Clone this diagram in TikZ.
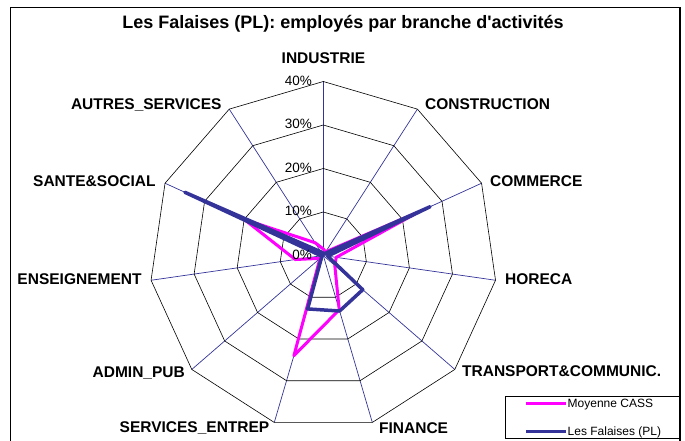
\documentclass[tikz,border=0pt]{standalone}
\usepackage{fontspec}
\setmainfont{Liberation Sans}
\usepackage{tikz}
\usetikzlibrary{positioning}
\definecolor{chartblue}{RGB}{51,51,153}
\definecolor{chartmagenta}{RGB}{255,0,255}

\begin{document}
\begin{tikzpicture}[x=1pt, y=-1pt,
        axislabel/.style={font=\fontsize{15.5}{15.5}\selectfont\bfseries, inner sep=0pt, text height=11.1pt, text depth=0pt},
        pct/.style={font=\fontsize{13.5}{13.5}\selectfont, inner sep=0pt, text height=9.7pt, text depth=0pt, anchor=east},
        legendtext/.style={font=\fontsize{12}{12}\selectfont, inner sep=0pt, text height=8.6pt, text depth=0pt},
        spoke/.style={draw=chartblue, line width=0.7pt},
        ring/.style={draw=black, line width=0.6pt},
        cass/.style={draw=chartmagenta, line width=3pt, line join=round},
        falaises/.style={draw=chartblue, line width=3.5pt, line join=round}]
        \useasboundingbox (0,0) rectangle (685,441);
        \draw[line width=1.2pt] (10.7,7.3) rectangle (680,450);
        \node (title) at (343,22) [font=\fontsize{18}{18}\selectfont\bfseries, inner sep=0pt, text height=12.9pt, text depth=0pt] {Les Falaises (PL): employés par branche d\textquotesingle activités};
        \coordinate (centre) at (323.3,255.5);
        \begin{scope}[shift={(centre)}, x=4.35pt, y=-4.35pt]
          \foreach \k in {0,...,10}
            \draw[spoke] (0,0) -- ({\k*360/11-90}:40);
          \foreach \r in {10,20,30,40}
            \draw[ring] (-90:\r) \foreach \k in {1,...,10} { -- ({\k*360/11-90}:\r) } -- cycle;
          \draw[cass] (-90:1.5) \foreach \v [count=\k] in {1,24,3,3.5,13,24,1,6.5,20,3.5} { -- ({\k*360/11-90}:\v) } -- cycle;
          \draw[falaises] (-90:0.5) \foreach \v [count=\k] in {0.5,27,1,12,13.3,12.8,0.5,0.5,35,1} { -- ({\k*360/11-90}:\v) } -- cycle;
        \end{scope}
        \foreach \p in {0,10,20,30,40}
          \node[pct] (pct \p) at (312,{254.5-4.35*\p}) {\p\%};
        \node[axislabel] (label 1) at (323.5,58) {INDUSTRIE};
        \node[axislabel, anchor=west] (label 2) at (425,104) {CONSTRUCTION};
        \node[axislabel, anchor=west] (label 3) at (490,181) {COMMERCE};
        \node[axislabel, anchor=west] (label 4) at (505,278.5) {HORECA};
        \node[axislabel, anchor=west] (label 5) at (462,371) {TRANSPORT\&COMMUNIC.};
        \node[axislabel, anchor=west] (label 6) at (379,428) {FINANCE};
        \node[axislabel, anchor=east] (label 7) at (269.5,427) {SERVICES\_ENTREP};
        \node[axislabel, anchor=east] (label 8) at (185,371.5) {ADMIN\_PUB};
        \node[axislabel, anchor=east] (label 9) at (141.7,278.5) {ENSEIGNEMENT};
        \node[axislabel, anchor=east] (label 10) at (155.7,180.7) {SANTE\&SOCIAL};
        \node[axislabel, anchor=east] (label 11) at (221.7,104.3) {AUTRES\_SERVICES};
        \node (legend) at (592.2,417.5) [draw, line width=0.8pt, fill=white, minimum width=174.5pt, minimum height=42pt, inner sep=0pt] {};
        \coordinate (cass a) at (526,403.5);
        \coordinate (cass b) at (566,403.5);
        \coordinate (falaises a) at (526,431.5);
        \coordinate (falaises b) at (566,431.5);
        \draw[cass] (cass a) -- (cass b);
        \draw[falaises, line width=3pt] (falaises a) -- (falaises b);
        \node[legendtext, right=1.5pt of cass b] (cass text) {Moyenne CASS};
        \node[legendtext, right=1.5pt of falaises b] (falaises text) {Les Falaises (PL)};
\end{tikzpicture}
\end{document}
